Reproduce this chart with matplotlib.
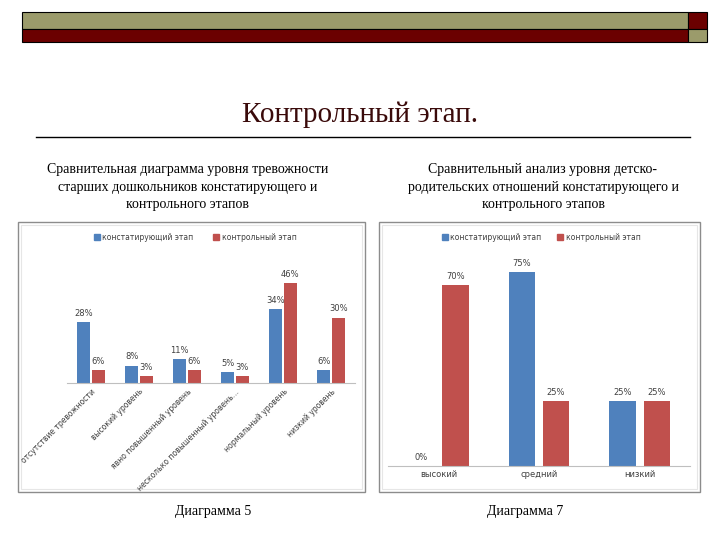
import numpy as np
import matplotlib.pyplot as plt
from matplotlib.patches import Rectangle
from matplotlib.lines import Line2D

BLUE = '#4F81BD'
RED = '#C0504D'
TXT = '#404040'

series_names = ['констатирующий этап', 'контрольный этап']

# Диаграмма 5 - уровень тревожности
anx_labels = ['отсутствие тревожности', 'высокий уровень',
              'явно повышенный уровень', 'несколько повышенный уровень…',
              'нормальный уровень', 'низкий уровень']
anx_first = [28, 8, 11, 5, 34, 6]
anx_control = [6, 3, 6, 3, 46, 30]

# Диаграмма 7 - детско-родительские отношения
rel_labels = ['высокий', 'средний', 'низкий']
rel_first = [0, 75, 25]
rel_control = [70, 25, 25]


def px(x, y, w, h):
    # pixel box (from top-left) -> figure fraction
    return [x / 720, 1 - (y + h) / 540, w / 720, h / 540]


def bar_panel(ax, labels, first, control, ymax, width, off, rot):
    x = np.arange(len(labels))
    ax.bar(x - off, first, width, color=BLUE)
    ax.bar(x + off, control, width, color=RED)
    for xs, vals in ((x - off, first), (x + off, control)):
        for xi, v in zip(xs, vals):
            ax.annotate(f'{v}%', (xi, v), xytext=(0, 3),
                        textcoords='offset points', ha='center',
                        va='bottom', fontsize=6, color=TXT)
    ax.set_xlim(-0.5, len(labels) - 0.5)
    ax.set_ylim(0, ymax)
    ax.patch.set_alpha(0)
    for s in ('top', 'right', 'left'):
        ax.spines[s].set_visible(False)
    ax.spines['bottom'].set_color('#BFBFBF')
    ax.set_yticks([])
    ax.set_xticks(x)
    ax.tick_params(axis='x', length=0, pad=3, labelsize=6, labelcolor=TXT)
    if rot:
        ax.set_xticklabels(labels, rotation=45, ha='right',
                           rotation_mode='anchor', fontsize=5.5)
    else:
        ax.set_xticklabels(labels)


fig = plt.figure(figsize=(7.2, 5.4), dpi=100)
serif = 'Liberation Serif'

# header bars
hdr = [(22, 12, 666, 17, '#9B9B6B'), (22, 29, 666, 13, '#6B0000'),
       (688, 12, 19, 17, '#6B0000'), (688, 29, 19, 13, '#9B9B6B')]
for x0, y0, w, h, c in hdr:
    fig.patches.append(Rectangle((x0 / 720, 1 - (y0 + h) / 540), w / 720,
                                 h / 540, transform=fig.transFigure,
                                 facecolor=c, edgecolor='black', lw=0.8))

fig.text(360 / 720, 1 - 115 / 540, 'Контрольный этап.', ha='center',
         va='center', fontsize=21, family=serif, color='#3A0A0A')
fig.lines.append(Line2D([36 / 720, 690 / 720], [1 - 137 / 540] * 2,
                        transform=fig.transFigure, color='black', lw=1))

fig.text(188 / 720, 1 - 187 / 540,
         'Сравнительная диаграмма уровня тревожности\n'
         'старших дошкольников констатирующего и\nконтрольного этапов',
         ha='center', va='center', fontsize=10, family=serif,
         linespacing=1.45)
fig.text(543 / 720, 1 - 187 / 540,
         'Сравнительный анализ уровня детско-\n'
         'родительских отношений констатирующего и\nконтрольного этапов',
         ha='center', va='center', fontsize=10, family=serif,
         linespacing=1.45)

# chart frames (behind the axes), outer grey line + faint inner line
for x0, x1 in ((18, 365), (379, 700)):
    fig.patches.append(Rectangle((x0 / 720, 1 - 492 / 540), (x1 - x0) / 720,
                                 270 / 540, transform=fig.transFigure,
                                 facecolor='white', edgecolor='#8C8C8C',
                                 lw=1, zorder=-2))
    fig.patches.append(Rectangle(((x0 + 3) / 720, 1 - 489 / 540),
                                 (x1 - x0 - 6) / 720, 264 / 540,
                                 transform=fig.transFigure, fill=False,
                                 edgecolor='#E6E6E6', lw=0.8, zorder=-1))

ax1 = fig.add_axes(px(67, 274, 288, 109))
bar_panel(ax1, anx_labels, anx_first, anx_control, 50, 0.27, 0.15, True)
ax2 = fig.add_axes(px(388, 259, 302, 207))
bar_panel(ax2, rel_labels, rel_first, rel_control, 80, 0.26, 0.17, False)

for ax, cx, gap in ((ax1, 195, 2.6), (ax2, 541, 2.1)):
    handles = [Rectangle((0, 0), 1, 1, color=BLUE),
               Rectangle((0, 0), 1, 1, color=RED)]
    leg = ax.legend(handles, series_names, ncol=2, loc='center',
                    bbox_to_anchor=(cx / 720, 1 - 237 / 540),
                    bbox_transform=fig.transFigure, frameon=False,
                    fontsize=5.5, handlelength=0.8, handleheight=0.8,
                    handletextpad=0.3, columnspacing=gap)
    for t in leg.get_texts():
        t.set_color(TXT)

fig.text(213 / 720, 1 - 511 / 540, 'Диаграмма 5', ha='center', va='center',
         fontsize=10, family=serif)
fig.text(525 / 720, 1 - 511 / 540, 'Диаграмма 7', ha='center', va='center',
         fontsize=10, family=serif)

fig.savefig('out.png', dpi=100, facecolor='white')
